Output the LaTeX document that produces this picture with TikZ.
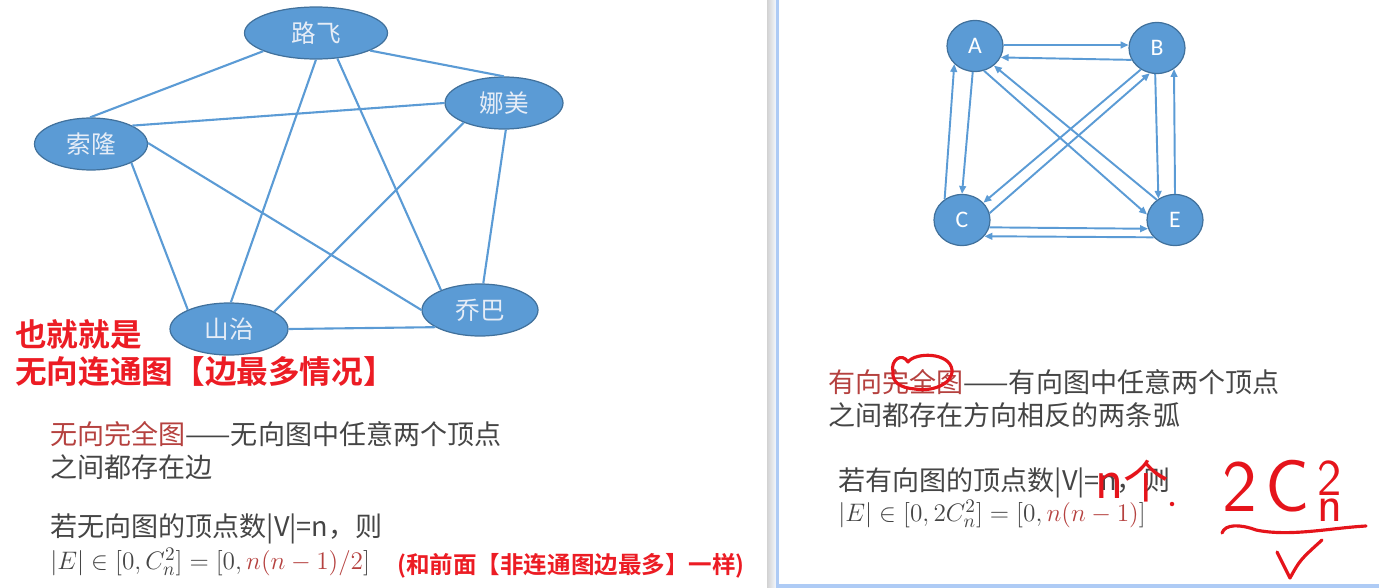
\documentclass[tikz,border=0pt]{standalone}
\usepackage{fontspec}
\usepackage{xcolor}
\usepackage{tikz}
\usetikzlibrary{arrows.meta,shapes.geometric}
\newfontfamily\zh{Noto Sans CJK SC}[BoldFont={Noto Sans CJK SC Bold}]
\newfontfamily\lat{Carlito}
\definecolor{graphblue}{HTML}{5B9BD5}
\definecolor{graphedge}{HTML}{41719C}
\definecolor{graphtext}{HTML}{E6EDF7}
\definecolor{bodygray}{HTML}{454545}
\definecolor{termred}{HTML}{B5413F}
\definecolor{alertred}{HTML}{EC1C24}
\definecolor{handred}{HTML}{E5141B}
\definecolor{framegray}{HTML}{D2D2D2}
\definecolor{frameblue}{HTML}{AECBF5}

\begin{document}
\begin{tikzpicture}[x=0.02cm,y=-0.02cm,
  person/.style={ellipse,draw=graphedge,line width=0.7pt,fill=graphblue,minimum height=1.04cm,inner sep=0pt,text=graphtext,font=\zh\fontsize{14pt}{16pt}\selectfont},
  vertex/.style={ellipse,draw=graphedge,line width=0.7pt,fill=graphblue,minimum width=1.12cm,minimum height=1.02cm,inner sep=0pt,text=white,font=\lat\fontsize{13.5pt}{15pt}\selectfont},
  link/.style={draw=graphblue,line width=1.2pt},
  arcline/.style={-{Triangle[length=4.5pt,width=3.8pt]},draw=graphblue,line width=1.1pt},
  bodytext/.style={anchor=west,inner sep=0pt,text=bodygray,font=\zh\fontsize{15.4pt}{18pt}\selectfont},
  formula/.style={anchor=west,inner sep=0pt,text=bodygray,font=\fontsize{15.4pt}{18pt}\selectfont},
  alert/.style={anchor=west,inner sep=0pt,text=alertred,font=\zh\bfseries\fontsize{18pt}{20pt}\selectfont},
  remark/.style={anchor=west,inner sep=0pt,text=alertred,font=\zh\bfseries\fontsize{13.4pt}{16pt}\selectfont},
  hand/.style={text=handred,inner sep=0pt},
  handline/.style={draw=handred,line width=1.8pt,line cap=round,line join=round}
]
\useasboundingbox (0,0) rectangle (1379,588);

\node[person,minimum width=2.86cm] (lf) at (316,33) {路飞};
\node[person,minimum width=2.36cm] (nm) at (504,103) {娜美};
\node[person,minimum width=2.26cm] (sl) at (91,144) {索隆};
\node[person,minimum width=2.36cm] (sz) at (229,329) {山治};
\node[person,minimum width=2.32cm] (qb) at (480,310) {乔巴};

\draw[link] (lf.199) -- (sl.92);
\draw[link] (lf.-18) -- (nm.north);
\draw[link] (nm.west) -- (sl.24);
\draw[link] (lf.south) -- (sz.86);
\draw[link] (lf.-50) -- (qb.153);
\draw[link] (nm.206) -- (sz.21);
\draw[link] (nm.-86) -- (qb.83);
\draw[link] (sl.-25) -- (sz.155);
\draw[link] (sl.1) -- (qb.west);
\draw[link] (sz.east) -- (qb.201);

\node[alert] (also) at (15,334) {也就就是};
\node[alert] (connected) at (15,372) {无向连通图【边最多情况】};
\node[bodytext] (udefa) at (50,434) {\textcolor{termred}{无向完全图}——无向图中任意两个顶点};
\node[bodytext] (udefb) at (50,467) {之间都存在边};
\node[bodytext] (ucount) at (50,529) {若无向图的顶点数|V|=n，则};
\node[formula] (uedges) at (50,562) {$|E|\in[0,C_n^2]=[0,\textcolor{termred}{n(n-1)/2}]$};
\node[remark] (same) at (397,566) {(和前面【非连通图边最多】一样)};

\shade[left color=framegray,right color=white!85!frameblue] (767,0) rectangle (776,588);
\fill[frameblue] (776,0) rectangle (779,588);
\fill[frameblue] (776,584) rectangle (1379,588);

\node[vertex] (a) at (975,46) {A};
\node[vertex] (b) at (1157,48) {B};
\node[vertex] (c) at (962,220) {C};
\node[vertex] (e) at (1175,220) {E};

\draw[arcline] (a.2) -- (b.174);
\draw[arcline] (b.205) -- (a.-24);
\draw[arcline] (a.-95) -- (c.north);
\draw[arcline] (c.130) -- (a.-139);
\draw[arcline] (a.-70) -- (e.169);
\draw[arcline] (e.132) -- (a.-46);
\draw[arcline] (b.-127) -- (c.39);
\draw[arcline] (c.14) -- (b.-106);
\draw[arcline] (b.-94) -- (e.128);
\draw[arcline] (e.north) -- (b.-51);
\draw[arcline] (c.-15) -- (e.198);
\draw[arcline] (e.219) -- (c.-36);

\node[bodytext] (ddefa) at (828,382) {\textcolor{termred}{有向完全图}——有向图中任意两个顶点};
\node[bodytext] (ddefb) at (828,415) {之间都存在方向相反的两条弧};
\node[bodytext] (dcount) at (838,483) {若有向图的顶点数|V|=n，则};
\node[formula] (dedges) at (838,514) {$|E|\in[0,2C_n^2]=[0,\textcolor{termred}{n(n-1)}]$};

\draw[handline] (893,372) .. controls (890,360) and (902,352) .. (908,362)
  .. controls (915,352) and (950,352) .. (952,370)
  .. controls (953,385) and (930,392) .. (915,389)
  .. controls (900,388) and (892,382) .. (893,372);
\node[hand,font=\zh\fontsize{26pt}{26pt}\selectfont] (nge) at (1132,481) {n个};
\fill[handred] (1172,504) circle (0.045cm);
\node[hand,font=\sffamily\fontsize{42pt}{42pt}\selectfont,anchor=base west] (twocn) at (1222,511) {2\hspace{0.12em}C$_{\,\mathsf{n}}^{\,\mathsf{2}}$};
\draw[handline] (1222,533) .. controls (1225,524) and (1240,524) .. (1256,530)
  .. controls (1290,537) and (1330,528) .. (1366,526);
\draw[handline] (1277,552) .. controls (1282,562) .. (1290,578)
  .. controls (1300,560) .. (1322,540);
\end{tikzpicture}
\end{document}
